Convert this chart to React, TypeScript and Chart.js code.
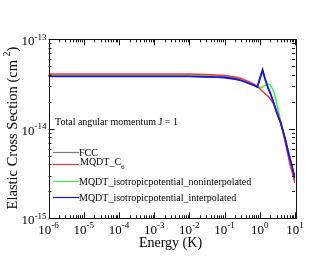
import React, { useEffect, useRef } from "react";
import { Chart, registerables } from "chart.js";

Chart.register(...registerables);

const energy = [1e-6, 1e-5, 1e-4, 1e-3, 3e-3, 1e-2, 0.03, 0.06, 0.1, 0.2, 0.3, 0.5, 0.7, 0.85, 1.0, 1.2, 1.4, 1.7, 2.0, 2.5, 3, 4, 5, 7, 10];

const fccValues = [3.86e-14, 3.86e-14, 3.86e-14, 3.86e-14, 3.86e-14, 3.86e-14, 3.811e-14, 3.782e-14, 3.743e-14, 3.601e-14, 3.465e-14, 3.207e-14, 3.046e-14, 2.931e-14, 3.601e-14, 4.539e-14, 3.64e-14, 2.894e-14, 2.493e-14, 1.927e-14, 1.541e-14, 1.131e-14, 8.308e-15, 4.841e-15, 2.82e-15];
const mqdtC6Values = [4.095e-14, 4.095e-14, 4.095e-14, 4.095e-14, 4.095e-14, 4.09e-14, 4.043e-14, 3.991e-14, 3.94e-14, 3.792e-14, 3.648e-14, 3.333e-14, 3.126e-14, 2.969e-14, 2.82e-14, 2.611e-14, 2.48e-14, 2.325e-14, 2.153e-14, 1.893e-14, 1.58e-14, 1.161e-14, 7.89e-15, 4.257e-15, 2.48e-15];
const nonInterpValues = [3.971e-14, 3.971e-14, 3.971e-14, 3.971e-14, 3.971e-14, 3.971e-14, 3.93e-14, 3.89e-14, 3.84e-14, 3.695e-14, 3.555e-14, 3.248e-14, 3.086e-14, 2.953e-14, 2.894e-14, 2.931e-14, 3.046e-14, 3.143e-14, 3.086e-14, 2.597e-14, 1.967e-14, 1.161e-14, 8.097e-15, 4.718e-15, 2.679e-15];
const interpValues = [3.86e-14, 3.86e-14, 3.86e-14, 3.86e-14, 3.86e-14, 3.86e-14, 3.811e-14, 3.782e-14, 3.743e-14, 3.601e-14, 3.465e-14, 3.207e-14, 3.046e-14, 2.931e-14, 3.601e-14, 4.539e-14, 3.64e-14, 2.894e-14, 2.493e-14, 1.927e-14, 1.541e-14, 1.131e-14, 8.308e-15, 4.841e-15, 2.82e-15];

const xTickExponents = [-6, -5, -4, -3, -2, -1, 0, 1];
const yTickExponents = [-15, -14, -13];
const minorMultipliers = [2, 3, 4, 5, 6, 7, 8, 9];

const seriesNames = ["FCC", "MQDT_C", "MQDT_isotropicpotential_noninterpolated", "MQDT_isotropicpotential_interpolated"];
const seriesSubscripts = ["", "6", "", ""];
const seriesColors = ["#7a7a7a", "#ff3030", "#44f044", "#1414f0"];
const annotation = "Total angular momentum J = 1";

const FONT = '"Liberation Serif", "Times New Roman", serif';

function drawPow(ctx: CanvasRenderingContext2D, exp: string, x: number, baseline: number, align: "center" | "right") {
  ctx.font = `13px ${FONT}`;
  const wb = ctx.measureText("10").width;
  ctx.font = `9px ${FONT}`;
  const we = ctx.measureText(exp).width;
  const total = wb + we;
  const start = align === "center" ? x - total / 2 : x - total;
  ctx.textAlign = "left";
  ctx.textBaseline = "alphabetic";
  ctx.font = `13px ${FONT}`;
  ctx.fillText("10", start, baseline);
  ctx.font = `9px ${FONT}`;
  ctx.fillText(exp, start + wb, baseline - 5.5);
}

const framePlugin = {
  id: "frameTicks",
  afterDraw(chart: any) {
    const ctx: CanvasRenderingContext2D = chart.ctx;
    const { left, right, top, bottom } = chart.chartArea;
    const xs = chart.scales.x;
    const ys = chart.scales.y;
    ctx.save();
    ctx.strokeStyle = "#111";
    ctx.lineWidth = 1;
    ctx.strokeRect(Math.round(left) + 0.5, Math.round(top) + 0.5, Math.round(right - left), Math.round(bottom - top));
    const majorLen = 6;
    const minorLen = 3;
    ctx.beginPath();
    xTickExponents.forEach((e, i) => {
      const v = Math.pow(10, e);
      const px = Math.round(xs.getPixelForValue(v)) + 0.5;
      ctx.moveTo(px, bottom); ctx.lineTo(px, bottom - majorLen);
      ctx.moveTo(px, top); ctx.lineTo(px, top + majorLen);
      if (i < xTickExponents.length - 1) {
        minorMultipliers.forEach((m) => {
          const p = Math.round(xs.getPixelForValue(m * v)) + 0.5;
          ctx.moveTo(p, bottom); ctx.lineTo(p, bottom - minorLen);
          ctx.moveTo(p, top); ctx.lineTo(p, top + minorLen);
        });
      }
    });
    yTickExponents.forEach((e, i) => {
      const v = Math.pow(10, e);
      const py = Math.round(ys.getPixelForValue(v)) + 0.5;
      ctx.moveTo(left, py); ctx.lineTo(left + majorLen, py);
      ctx.moveTo(right, py); ctx.lineTo(right - majorLen, py);
      if (i < yTickExponents.length - 1) {
        minorMultipliers.forEach((m) => {
          const p = Math.round(ys.getPixelForValue(m * v)) + 0.5;
          ctx.moveTo(left, p); ctx.lineTo(left + minorLen, p);
          ctx.moveTo(right, p); ctx.lineTo(right - minorLen, p);
        });
      }
    });
    ctx.stroke();

    ctx.fillStyle = "#000";
    xTickExponents.forEach((e) => {
      const px = xs.getPixelForValue(Math.pow(10, e));
      drawPow(ctx, String(e), px, bottom + 15.3, "center");
    });
    yTickExponents.forEach((e) => {
      const py = ys.getPixelForValue(Math.pow(10, e));
      drawPow(ctx, String(e), left - 2, py + 6, "right");
    });

    // x title
    ctx.font = `14px ${FONT}`;
    ctx.textAlign = "center";
    ctx.fillText("Energy (K)", 170.5, 246.5);

    // y title
    ctx.save();
    ctx.translate(16.5, 128);
    ctx.rotate(-Math.PI / 2);
    ctx.font = `14.5px ${FONT}`;
    const p1 = "Elastic Cross Section (cm ";
    const w1 = ctx.measureText(p1).width;
    ctx.font = `10px ${FONT}`;
    const w2 = ctx.measureText("2").width;
    ctx.font = `14.5px ${FONT}`;
    const w3 = ctx.measureText(")").width;
    const tot = w1 + w2 + w3;
    const sx = -tot / 2;
    ctx.textAlign = "left";
    ctx.fillText(p1, sx, 0);
    ctx.font = `10px ${FONT}`;
    ctx.fillText("2", sx + w1, -7);
    ctx.font = `14.5px ${FONT}`;
    ctx.fillText(")", sx + w1 + w2, 0);
    ctx.restore();

    // annotation
    ctx.font = `10px ${FONT}`;
    ctx.textAlign = "left";
    ctx.fillText(annotation, 55, 125);

    // legend
    const lineYs = [152.5, 164.5, 181.5, 197.5];
    const textBase = [155.8, 165.3, 185.3, 201.3];
    seriesNames.forEach((name, i) => {
      ctx.strokeStyle = seriesColors[i];
      ctx.lineWidth = 1.2;
      ctx.beginPath();
      ctx.moveTo(53, lineYs[i]);
      ctx.lineTo(79, lineYs[i]);
      ctx.stroke();
      ctx.font = `10px ${FONT}`;
      const tx = i === 1 ? 80 : 79;
      ctx.fillText(name, tx, textBase[i]);
      if (seriesSubscripts[i]) {
        const w = ctx.measureText(name).width;
        ctx.font = `7px ${FONT}`;
        ctx.fillText(seriesSubscripts[i], tx + w, textBase[i] + 3.5);
      }
    });
    ctx.restore();
  },
};

export default function App() {
  const ref = useRef<HTMLCanvasElement>(null);
  useEffect(() => {
    if (!ref.current) return;
    const mk = (vals: number[]) => energy.map((e, i) => ({ x: e, y: vals[i] }));
    const chart = new Chart(ref.current, {
      type: "line",
      data: {
        datasets: [
          { label: seriesNames[0], data: mk(fccValues), borderColor: seriesColors[0], borderWidth: 1.5, pointRadius: 0, tension: 0, order: 3 },
          { label: seriesNames[1], data: mk(mqdtC6Values), borderColor: seriesColors[1], borderWidth: 1.6, pointRadius: 0, tension: 0, order: 1 },
          { label: seriesNames[2], data: mk(nonInterpValues), borderColor: seriesColors[2], borderWidth: 1.6, pointRadius: 0, tension: 0, order: 2 },
          { label: seriesNames[3], data: mk(interpValues), borderColor: seriesColors[3], borderWidth: 1.8, pointRadius: 0, tension: 0, order: 0 },
        ],
      },
      options: {
        responsive: false,
        animation: false,
        devicePixelRatio: 1,
        layout: { padding: { left: 48.5, right: 37, top: 39.3, bottom: 38.7 } },
        plugins: { legend: { display: false }, tooltip: { enabled: false } },
        scales: {
          x: { type: "logarithmic", min: 1e-6, max: 10, display: false },
          y: { type: "logarithmic", min: 1e-15, max: 1e-13, display: false },
        },
      },
      plugins: [framePlugin],
    });
    return () => chart.destroy();
  }, []);
  return (
    <div style={{ position: "fixed", left: 0, top: 0, width: 332, height: 257, background: "#fff" }}>
      <canvas ref={ref} width={332} height={257} />
    </div>
  );
}
